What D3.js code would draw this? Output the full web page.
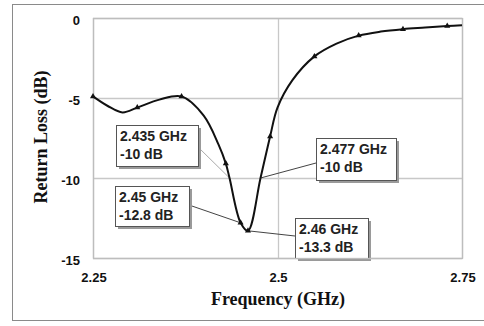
<!DOCTYPE html>
<html>
<head>
<meta charset="utf-8">
<script src="https://cdn.jsdelivr.net/npm/d3@7"></script>
<style>
  html, body { margin: 0; padding: 0; background: #fff; }
  svg { display: block; }
</style>
</head>
<body>
<svg id="chart" width="484" height="326"></svg>
<script>
// Measured return loss of the antenna across the band
const freqGHz = [2.25, 2.27, 2.29, 2.31, 2.34, 2.37, 2.40, 2.42, 2.43, 2.435, 2.45, 2.46,
                 2.477, 2.49, 2.50, 2.52, 2.55, 2.58, 2.61, 2.64, 2.67, 2.70, 2.73, 2.75];
const returnLossDb = [-4.9, -5.5, -5.9, -5.6, -5.1, -4.9, -6.1, -7.9, -9.1, -10, -12.8, -13.3,
                      -10, -7.4, -5.6, -3.9, -2.4, -1.6, -1.1, -0.85, -0.7, -0.6, -0.5, -0.45];
// Frequencies that carry a marker symbol
const markerFreqs = [2.25, 2.31, 2.37, 2.43, 2.45, 2.46, 2.49, 2.55, 2.61, 2.67, 2.73];

// Axis ticks
const xTicks = [2.25, 2.5, 2.75];
const xTickLabels = ["2.25", "2.5", "2.75"];
const yTicks = [0, -5, -10, -15];

// Callouts: frequency, value and text lines
const calloutFreq = [2.435, 2.45, 2.477, 2.46];
const calloutDb = [-10, -12.8, -10, -13.3];
const calloutLines = [["2.435 GHz", "-10 dB"], ["2.45 GHz", "-12.8 dB"],
                      ["2.477 GHz", "-10 dB"], ["2.46 GHz", "-13.3 dB"]];

const svg = d3.select("#chart");

// outer chart frame
svg.append("rect").attr("x", 12.5).attr("y", 4.5).attr("width", 490).attr("height", 316)
  .attr("fill", "#fff").attr("stroke", "#8a8a8a").attr("stroke-width", 1);

const plotL = 93, plotR = 462, plotT = 18, plotB = 258;
const x = d3.scaleLinear().domain([2.25, 2.75]).range([plotL, plotR]);
const y = d3.scaleLinear().domain([-15, 0]).range([plotB, plotT]);

// gridlines
const grid = svg.append("g").attr("stroke", "#c8c8c8").attr("stroke-width", 1.3);
yTicks.forEach(t => {
  grid.append("line").attr("x1", plotL).attr("x2", plotR)
    .attr("y1", Math.round(y(t)) + 0.5).attr("y2", Math.round(y(t)) + 0.5);
});
xTicks.forEach(t => {
  grid.append("line").attr("y1", plotT).attr("y2", plotB)
    .attr("x1", Math.round(x(t)) + 0.5).attr("x2", Math.round(x(t)) + 0.5);
});

// tick labels
const tickFont = "'Liberation Sans', Arial, sans-serif";
svg.append("g").selectAll("text").data(yTicks).join("text")
  .attr("x", 80).attr("y", d => y(d) + 6.5)
  .attr("text-anchor", "end")
  .attr("font-family", tickFont).attr("font-weight", "bold").attr("font-size", 13)
  .attr("fill", "#111").text(d => d);
svg.append("g").selectAll("text").data(xTicks).join("text")
  .attr("x", d => x(d) + 1).attr("y", 282)
  .attr("text-anchor", "middle")
  .attr("font-family", tickFont).attr("font-weight", "bold").attr("font-size", 13)
  .attr("fill", "#111").text((d, i) => xTickLabels[i]);

// axis titles
const titleFont = "'Liberation Serif', 'Times New Roman', serif";
svg.append("text").attr("x", 278).attr("y", 305).attr("text-anchor", "middle")
  .attr("font-family", titleFont).attr("font-weight", "bold").attr("font-size", 18)
  .attr("fill", "#111").text("Frequency (GHz)");
svg.append("text").attr("transform", "translate(47,137) rotate(-90)")
  .attr("text-anchor", "middle")
  .attr("font-family", titleFont).attr("font-weight", "bold").attr("font-size", 18)
  .attr("fill", "#111").text("Return Loss (dB)");

// callout boxes and leaders (drawn below the curve)
const boxes = [
  { x: 116, y: 125, w: 82, h: 41, lead: [198, 147], stroke: "#aaaaaa" },
  { x: 115, y: 186, w: 74, h: 40, lead: [189, 205], stroke: "#444" },
  { x: 316, y: 138, w: 80, h: 42, lead: [316, 163], stroke: "#444" },
  { x: 295, y: 218, w: 73, h: 40, lead: [295, 236], stroke: "#444" }
];
const callouts = svg.append("g");
boxes.forEach((b, i) => {
  callouts.append("line")
    .attr("x1", b.lead[0]).attr("y1", b.lead[1])
    .attr("x2", x(calloutFreq[i])).attr("y2", y(calloutDb[i]))
    .attr("stroke", b.stroke).attr("stroke-width", 1);
});
boxes.forEach((b, i) => {
  callouts.append("rect").attr("x", b.x + 3).attr("y", b.y + 3)
    .attr("width", b.w).attr("height", b.h).attr("fill", "#9a9a9a");
  callouts.append("rect").attr("x", b.x + 0.5).attr("y", b.y + 0.5)
    .attr("width", b.w).attr("height", b.h)
    .attr("fill", "#fff").attr("stroke", "#555").attr("stroke-width", 1);
  calloutLines[i].forEach((s, k) => {
    callouts.append("text").attr("x", b.x + 4).attr("y", b.y + 16 + k * 18)
      .attr("font-family", tickFont).attr("font-weight", "bold").attr("font-size", 14)
      .attr("fill", "#222").text(s);
  });
});

// plot area border
svg.append("rect").attr("x", plotL + 0.5).attr("y", plotT + 0.5)
  .attr("width", plotR - plotL).attr("height", plotB - plotT)
  .attr("fill", "none").attr("stroke", "#bdbdbd").attr("stroke-width", 1.3);

// curve
const pts = freqGHz.map((f, i) => [f, returnLossDb[i]]);
const line = d3.line().x(d => x(d[0])).y(d => y(d[1])).curve(d3.curveCatmullRom.alpha(0.5));
svg.append("path").datum(pts).attr("d", line)
  .attr("fill", "none").attr("stroke", "#111").attr("stroke-width", 2);

// markers
const markerPts = pts.filter(p => markerFreqs.includes(p[0]));
svg.append("g").selectAll("path").data(markerPts).join("path")
  .attr("transform", d => `translate(${x(d[0])},${y(d[1])})`)
  .attr("d", d3.symbol(d3.symbolTriangle, 16))
  .attr("fill", "#111");
</script>
</body>
</html>
